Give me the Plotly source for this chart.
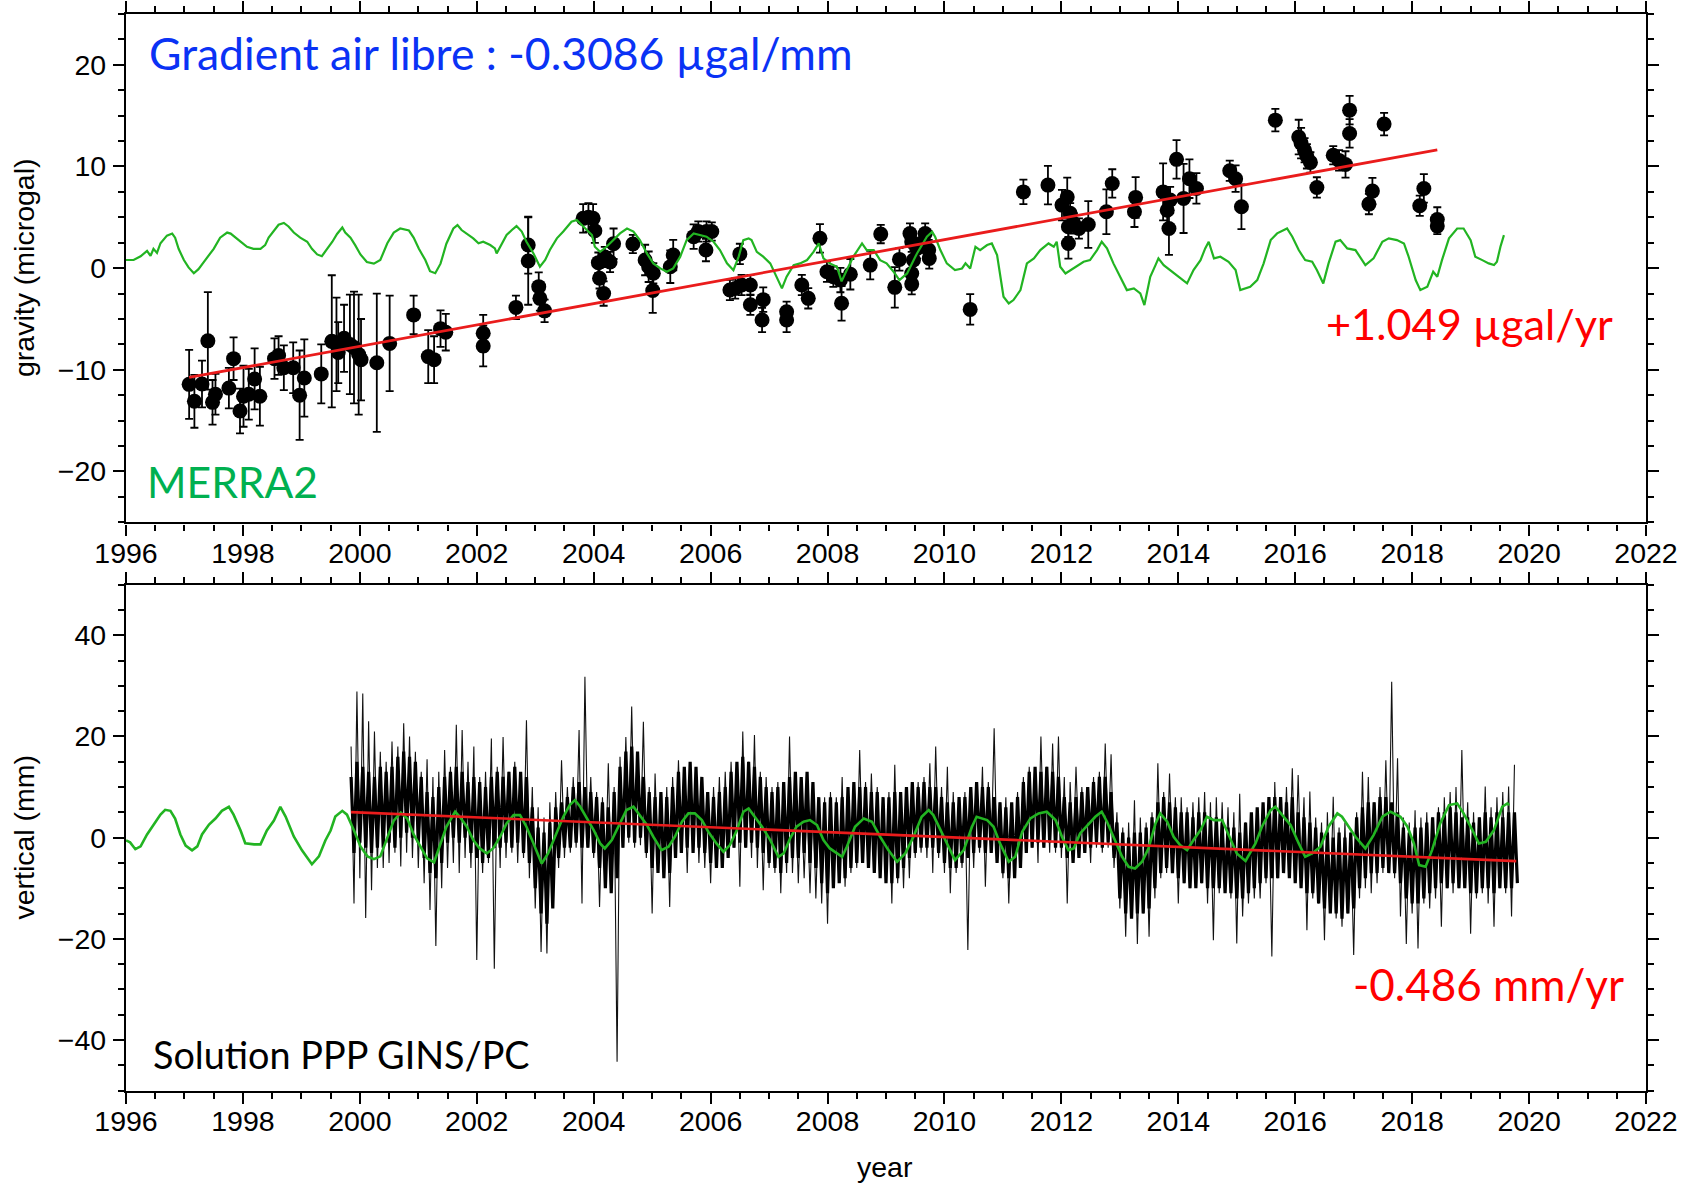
import numpy as np
import plotly.graph_objects as go

# ---------------------------------------------------------------------------
# Absolute gravity measurements (microgal) with their uncertainties
# ---------------------------------------------------------------------------
grav_t = [
    1997.08, 1997.17, 1997.30, 1997.40, 1997.48, 1997.53, 1997.76, 1997.84, 1997.95, 1998.01,
    1998.10, 1998.20, 1998.29, 1998.54, 1998.61, 1998.70, 1998.86, 1998.97, 1999.05, 1999.34,
    1999.52, 1999.60, 1999.63, 1999.73, 1999.83, 1999.90, 1999.98, 2000.02, 2000.29, 2000.51,
    2000.92, 2001.17, 2001.27, 2001.38, 2001.47, 2002.11, 2002.11, 2002.67, 2002.88, 2002.88,
    2003.06, 2003.08, 2003.16, 2003.82, 2003.91, 2003.99, 2004.02, 2004.08, 2004.10, 2004.17,
    2004.19, 2004.28, 2004.34, 2004.67, 2004.88, 2004.94, 2005.02, 2005.01, 2005.31, 2005.36,
    2005.71, 2005.79, 2005.93, 2006.02, 2005.92, 2006.33, 2006.42, 2006.50, 2006.53, 2006.68,
    2006.68, 2006.88, 2006.90, 2007.30, 2007.30, 2007.56, 2007.67, 2007.87, 2007.99, 2008.10,
    2008.22, 2008.24, 2008.39, 2008.73, 2008.91, 2009.15, 2009.23, 2009.41, 2009.44, 2009.47,
    2009.44, 2009.44, 2009.53, 2009.64, 2009.67, 2009.73, 2009.74, 2010.44, 2011.35, 2011.77,
    2012.01, 2012.10, 2012.12, 2012.12, 2012.15, 2012.21, 2012.30, 2012.46, 2012.77, 2012.87,
    2013.25, 2013.27, 2013.74, 2013.81, 2013.84, 2013.86, 2013.97, 2014.09, 2014.19, 2014.31,
    2014.88, 2014.98, 2015.08, 2015.66, 2016.06, 2016.10, 2016.16, 2016.20, 2016.26, 2016.37,
    2016.65, 2016.75, 2016.86, 2016.93, 2016.93, 2017.26, 2017.32, 2017.52, 2018.13, 2018.20,
    2018.43, 2018.43,
]
grav_v = [
    -11.43, -13.1, -11.4, -7.15, -13.2, -12.4, -11.8, -8.9, -14.05, -12.6,
    -12.4, -10.9, -12.6, -8.9, -8.6, -9.8, -9.8, -12.5, -10.8, -10.4,
    -7.2, -7.5, -8.3, -6.9, -7.5, -7.8, -8.5, -9.0, -9.3, -7.4,
    -4.6, -8.7, -9.0, -5.95, -6.3, -6.4, -7.66, -3.86, 2.27, 0.70,
    -1.82, -2.97, -4.2, 4.9, 5.0, 4.9, 3.68, 0.54, -1.0, -2.5,
    1.1, 0.6, 2.4, 2.37, 0.8, 0.14, -0.5, -2.2, 0.14, 1.29,
    3.1, 3.6, 3.6, 3.6, 1.78, -2.15, -2.0, 1.4, -1.66, -1.66,
    -3.6, -5.1, -3.1, -4.3, -5.1, -1.66, -2.97, 2.93, -0.35, -0.84,
    -1.17, -3.46, -0.6, 0.3, 3.35, -1.89, 0.86, 3.4, 2.6, 0.8,
    -0.52, -1.57, 1.94, 2.6, 3.4, 1.78, 0.96, -4.06, 7.5, 8.17,
    6.2, 7.0, 4.07, 2.43, 5.4, 4.4, 3.9, 4.3, 5.55, 8.33,
    5.55, 6.96, 7.5, 5.7, 3.9, 6.7, 10.7, 6.86, 8.8, 7.84,
    9.58, 8.8, 6.04, 14.56, 12.9, 12.3, 11.6, 11.0, 10.4, 7.94,
    11.1, 10.6, 10.2, 15.54, 13.25, 6.3, 7.58, 14.17, 6.14, 7.84,
    4.79, 4.14,
]
grav_err = [
    3.4, 2.6, 2.3, 4.8, 2.2, 2.0, 2.0, 2.1, 2.2, 3.0,
    2.5, 3.0, 2.9, 2.0, 1.9, 2.2, 2.5, 4.4, 3.8, 2.9,
    6.5, 4.6, 3.0, 3.3, 4.9, 5.5, 5.9, 4.0, 6.8, 4.7,
    1.9, 2.6, 2.3, 1.8, 1.8, 1.8, 2.0, 1.15, 2.8, 4.3,
    1.4, 1.2, 1.1, 1.4, 1.4, 1.4, 1.2, 1.0, 1.0, 1.2,
    1.0, 1.0, 1.5, 0.9, 1.5, 1.5, 1.0, 2.2, 1.6, 1.5,
    1.2, 1.0, 1.0, 0.9, 1.1, 1.0, 1.0, 1.0, 1.0, 1.0,
    1.0, 1.2, 1.2, 1.0, 1.2, 1.0, 1.0, 1.4, 1.0, 1.0,
    1.2, 1.7, 1.5, 1.4, 0.9, 2.0, 1.1, 1.0, 1.0, 1.0,
    1.0, 1.0, 1.0, 1.0, 1.0, 1.0, 1.0, 1.5, 1.2, 1.9,
    1.5, 1.9, 1.0, 1.5, 1.0, 1.0, 1.0, 2.3, 2.2, 1.4,
    1.5, 2.0, 2.8, 1.5, 2.6, 1.3, 1.9, 3.4, 1.9, 1.5,
    1.0, 1.3, 2.2, 1.1, 1.7, 1.5, 1.2, 1.2, 1.0, 1.0,
    0.9, 1.0, 1.3, 1.4, 1.4, 1.0, 1.3, 1.1, 1.0, 1.4,
    1.2, 0.8,
]

# MERRA2 atmospheric loading expressed in gravity (microgal)
merra_grav_t = [
    1996.00, 1996.13, 1996.25, 1996.36, 1996.42, 1996.47, 1996.53, 1996.59, 1996.70, 1996.79,
    1996.84, 1996.90, 1996.99, 1997.07, 1997.16, 1997.24, 1997.33, 1997.41, 1997.50, 1997.61,
    1997.73, 1997.79, 1997.87, 1997.96, 1998.07, 1998.18, 1998.30, 1998.38, 1998.44, 1998.53,
    1998.61, 1998.70, 1998.78, 1998.87, 1998.98, 1999.10, 1999.18, 1999.27, 1999.35, 1999.44,
    1999.53, 1999.61, 1999.70, 1999.75, 1999.84, 1999.92, 2000.01, 2000.12, 2000.24, 2000.35,
    2000.47, 2000.58, 2000.69, 2000.84, 2000.92, 2001.01, 2001.12, 2001.20, 2001.29, 2001.38,
    2001.48, 2001.60, 2001.67, 2001.74, 2001.83, 2001.94, 2002.03, 2002.11, 2002.23, 2002.31,
    2002.34, 2002.40, 2002.51, 2002.60, 2002.68, 2002.77, 2002.85, 2002.97, 2003.08, 2003.17,
    2003.25, 2003.37, 2003.48, 2003.62, 2003.71, 2003.77, 2003.88, 2003.97, 2004.02, 2004.11,
    2004.22, 2004.34, 2004.45, 2004.57, 2004.68, 2004.79, 2004.91, 2005.02, 2005.14, 2005.25,
    2005.36, 2005.48, 2005.59, 2005.71, 2005.82, 2005.93, 2006.05, 2006.16, 2006.28, 2006.39,
    2006.48, 2006.56, 2006.65, 2006.70, 2006.79, 2006.90, 2007.02, 2007.13, 2007.22, 2007.30,
    2007.42, 2007.53, 2007.65, 2007.76, 2007.85, 2007.93, 2008.04, 2008.16, 2008.24, 2008.33,
    2008.44, 2008.59, 2008.67, 2008.79, 2008.90, 2009.01, 2009.13, 2009.23, 2009.36, 2009.53,
    2009.70, 2009.79, 2009.84, 2009.93, 2010.04, 2010.18, 2010.30, 2010.36, 2010.44, 2010.53,
    2010.61, 2010.73, 2010.81, 2010.90, 2010.95, 2011.01, 2011.10, 2011.18, 2011.30, 2011.41,
    2011.53, 2011.64, 2011.78, 2011.87, 2011.92, 2011.98, 2012.07, 2012.21, 2012.38, 2012.49,
    2012.61, 2012.69, 2012.78, 2012.89, 2013.01, 2013.12, 2013.24, 2013.35, 2013.42, 2013.52,
    2013.61, 2013.66, 2013.75, 2013.86, 2013.98, 2014.15, 2014.26, 2014.38, 2014.46, 2014.52,
    2014.61, 2014.72, 2014.86, 2014.98, 2015.06, 2015.23, 2015.35, 2015.46, 2015.58, 2015.69,
    2015.86, 2015.95, 2016.06, 2016.17, 2016.29, 2016.37, 2016.48, 2016.57, 2016.69, 2016.77,
    2016.89, 2017.03, 2017.20, 2017.34, 2017.49, 2017.60, 2017.74, 2017.86, 2017.94, 2018.06,
    2018.14, 2018.26, 2018.36, 2018.43, 2018.51, 2018.63, 2018.77, 2018.88, 2019.00, 2019.08,
    2019.20, 2019.31, 2019.40, 2019.45, 2019.51, 2019.57,
]
merra_grav_v = [
    0.8, 0.8, 1.17, 1.7, 1.2, 1.9, 1.5, 2.45, 3.2, 3.4,
    3.0, 1.9, 0.8, 0.07, -0.5, -0.1, 0.6, 1.17, 1.9, 3.0,
    3.5, 3.4, 3.0, 2.6, 2.1, 1.9, 1.9, 2.26, 3.0, 3.7,
    4.27, 4.45, 4.1, 3.5, 3.0, 2.6, 1.9, 1.35, 1.17, 1.9,
    2.6, 3.36, 4.0, 3.5, 3.0, 2.26, 1.35, 0.6, 0.44, 0.8,
    2.45, 3.5, 3.9, 3.7, 3.0, 1.9, 0.8, -0.3, -0.5, 0.44,
    2.4, 3.9, 4.24, 3.75, 3.42, 2.93, 2.44, 2.6, 2.27, 1.94,
    1.45, 2.1, 3.26, 3.75, 4.14, 3.6, 2.6, 1.45, 0.14, 0.8,
    1.78, 2.93, 3.6, 4.57, 4.73, 4.4, 3.75, 3.26, 2.1, 1.6,
    2.1, 2.76, 3.42, 3.9, 3.6, 2.76, 1.45, 0.47, -0.02, -0.35,
    -0.02, 1.13, 2.76, 3.42, 3.26, 3.1, 2.6, 1.78, 0.47, -0.2,
    1.13, 2.76, 2.93, 2.76, 1.6, 1.13, 0.47, -0.84, -1.99, -0.84,
    0.3, 0.47, 0.8, 1.6, 2.44, 0.96, 0.47, 0.14, -1.3, -0.19,
    1.12, 2.43, 1.78, 1.78, 0.79, 0.47, -0.35, -1.17, -0.52, 1.45,
    3.09, 3.58, 3.09, 1.78, 0.47, -0.19, -0.03, 0.47, -0.03, 2.1,
    1.78, 2.27, 2.43, 1.29, -0.52, -2.81, -3.47, -3.14, -2.16, 0.47,
    0.96, 1.78, 2.43, 2.1, 2.6, 0.14, -0.52, -0.03, 0.63, 0.79,
    1.78, 2.6, 1.94, 0.47, -0.85, -2.16, -1.99, -2.48, -3.63, -0.85,
    0.3, 0.96, 0.3, -0.19, -0.68, -1.5, -0.19, 0.79, 1.94, 2.6,
    0.96, 1.12, 0.63, -0.19, -2.16, -1.83, -1.17, 0.47, 2.76, 3.42,
    3.9, 3.09, 1.78, 0.79, 0.63, -0.19, -1.5, 0.47, 2.6, 2.76,
    1.94, 1.78, 0.3, 0.96, 2.6, 2.93, 2.76, 2.43, 1.12, -1.17,
    -2.16, -1.83, -0.35, -0.85, 0.79, 2.93, 3.9, 3.9, 2.76, 1.12,
    0.79, 0.47, 0.3, 0.63, 2.1, 3.25,
]

# Linear gravity trend (microgal per year)
grav_rate = 1.049
grav_fit_t = [1997.08, 2018.43]
grav_fit_start = -10.75

# ---------------------------------------------------------------------------
# GNSS vertical position (mm), PPP solution
# gnss_v: excursions of the daily scatter every 0.05 yr (upper / lower alternately)
# gnss_core_top / gnss_core_bot: bulk of the daily values every 0.1 yr
# ---------------------------------------------------------------------------
gnss_start = 1999.85
gnss_step = 0.05
gnss_v = [
    18, -13, 28.9, -8, 28.5, -15.9, 23, -10.4, 21, -6,
    17, -6, 15, -5, 19, -3, 18, -5.7, 22.6, -3,
    20, -4, 17, -6, 13, -9, 15.5, -14.3, 12, -21.4,
    13, -10, 17.3, -6, 14, -5, 22.3, -7, 21.3, -4,
    15, -6, 18, -24.2, 12, -7, 13, -5, 19.6, -25.9,
    14, -6, 19.9, -4, 13, -3, 15, -5, 12, -4,
    23.2, -8, 10, -14, 6, -22.6, 4, -22.9, 7, -12,
    9, -6, 15.3, -4, 10, -3, 12, -2, 21.3, -13,
    31.8, -2, 12, -4, 9, -13.7, 8, -8, 14.7, -9,
    10, -44.3, 16, -2, 19.9, -1, 25.9, -2, 15, -1.5,
    22.9, -4, 10, -15, 12.7, -6, 9, -7, 10, -13.7,
    12, -4, 15.3, -3, 13, -7, 14, -3, 12, -5,
    11, -6, 9, -9, 10, -5, 12, -6, 13, -3,
    15, -2, 14, -9.7, 21, -2, 15, -4, 20.3, -6,
    13, -10.4, 12, -6, 10, -7, 11, -11, 9, -7,
    20, -7, 10, -9, 9, -8, 8, -11, 8, -12,
    7, -13, 8, -17, 9, -9, 8, -8, 12, -9.7,
    9, -7, 8, -6, 17.3, -5, 11, -6, 12.7, -5,
    10, -7, 8, -8, 9, -13, 14.4, -9, 8, -10,
    9, -8, 10, -4, 11, -3, 12, -4, 14.7, -7,
    18, -4, 10, -7, 14, -11, 9, -7, 8, -6,
    9, -22.2, 10, -6, 11, -3, 14, -9.7, 11, -3,
    21.6, -5, 7, -8, 8, -13, 6, -7, 9, -6,
    12, -3, 14, -2, 13, -5, 20, -2, 14, -3,
    18.6, -3, 20, -4, 12, -13, 11, -4, 14, -2,
    10, -2, 9, -5, 12, -2, 13, -3, 18.6, -2,
    16.5, -6, 5, -14, 2, -19.6, 3, -15, 7.4, -21,
    4, -15, 3, -19.6, 5, -12, 14.7, -8, 9, -7,
    12.7, -6, 8, -13, 8, -9, 6, -10, 7, -8,
    8, -9, 9, -13, 7, -20.3, 8, -11, 7, -10,
    6, -12, 5, -20.9, 8.7, -15.6, 3, -13, 4, -12,
    2, -12, 5, -9, 6, -23.5, 11, -8, 8, -7,
    10, -7, 13.7, -8, 12.4, -7, 8, -18.3, 9.1, -12,
    4, -13, 3, -20.3, 5, -14, 8.1, -16, 2, -17.6,
    3, -15, 1, -23.2, 5, -12, 13, -10, 12, -11,
    7, -9, 10, -7, 15.3, -6, 30.8, -8, 15.7, -15.6,
    4, -21, 3, -15, 5.4, -21.9, 4, -13, 5, -14,
    4, -12, 6, -17.6, 8, -10, 9, -11, 10, -10,
    17.3, -9, 7, -19, 5, -12, 4, -11, 10.1, -13,
    6, -17.6, 8, -10, 9, -11, 10.1, -15.6, 14.4,
]
gnss_core_step = 0.1
gnss_core_top = [
    12, 15, 14, 13, 12, 14, 13, 14, 16, 17,
    16, 15, 12, 9, 8, 10, 12, 13, 14, 13,
    11, 12, 11, 10, 12, 13, 12, 13, 14, 13,
    12, 6, 2, 1, 3, 6, 7, 8, 10, 11,
    10, 9, 8, 7, 6, 9, 14, 17, 18, 17,
    12, 9, 8, 9, 8, 10, 13, 14, 15, 14,
    12, 9, 8, 9, 10, 13, 15, 16, 15, 14,
    12, 10, 9, 10, 11, 12, 13, 12, 13, 11,
    8, 7, 8, 7, 8, 10, 11, 10, 10, 9,
    9, 8, 8, 9, 9, 10, 11, 10, 11, 10,
    10, 8, 7, 7, 8, 8, 10, 11, 10, 10,
    8, 7, 6, 7, 8, 11, 13, 14, 13, 14,
    13, 12, 8, 7, 8, 9, 10, 11, 12, 12,
    9, 3, 1, 0, 1, 1, 2, 4, 7, 8,
    7, 6, 5, 5, 4, 5, 5, 4, 4, 3,
    2, 2, 1, 3, 5, 6, 7, 8, 8, 8,
    7, 8, 5, 4, 3, 2, 1, 1, 0, 1,
    0, 1, 4, 6, 7, 7, 8, 8, 7, 5,
    2, 1, 2, 2, 3, 4, 5, 5, 6, 5,
    4, 4, 3, 4, 5, 4, 5, 4, 5, 5,
]
gnss_core_bot = [
    -3, -1, -2, -3, -2, -2, -1, -2, 0, 1,
    0, -1, -4, -7, -8, -5, -1, 0, -1, 0,
    -3, -4, -5, -4, -2, -2, -1, -2, -1, -3,
    -5, -10, -15, -17, -14, -4, -2, -2, -1, -2,
    -2, -3, -6, -10, -11, -8, -2, 0, -1, 0,
    -3, -6, -7, -8, -7, -4, -3, -2, -3, -2,
    -3, -5, -6, -6, -4, -2, -1, -2, -1, -2,
    -3, -5, -6, -7, -5, -4, -4, -3, -5, -6,
    -9, -11, -10, -9, -8, -6, -5, -5, -6, -7,
    -8, -9, -9, -8, -6, -4, -3, -2, -2, -2,
    -3, -5, -6, -6, -5, -4, -3, -2, -3, -3,
    -5, -7, -8, -8, -6, -3, -2, -1, -2, -1,
    -2, -2, -4, -5, -4, -3, -2, -1, -2, -1,
    -4, -12, -15, -16, -15, -15, -14, -10, -7, -6,
    -7, -8, -9, -10, -10, -9, -10, -10, -10, -11,
    -11, -12, -12, -11, -10, -9, -8, -8, -8, -7,
    -8, -9, -10, -11, -11, -13, -14, -15, -15, -16,
    -15, -14, -10, -8, -7, -7, -6, -7, -7, -9,
    -12, -13, -13, -12, -11, -10, -9, -10, -9, -10,
    -10, -11, -11, -10, -10, -11, -10, -10, -10, -9,
]

# MERRA2 loading model, vertical displacement (mm)
merra_vert_t = [
    1996.00, 1996.07, 1996.16, 1996.25, 1996.36, 1996.47, 1996.59, 1996.67, 1996.76, 1996.84,
    1996.93, 1997.02, 1997.13, 1997.22, 1997.30, 1997.42, 1997.53, 1997.64, 1997.76, 1997.84,
    1997.96, 1998.04, 1998.19, 1998.30, 1998.41, 1998.53, 1998.64, 1998.73, 1998.87, 1999.01,
    1999.18, 1999.30, 1999.41, 1999.50, 1999.58, 1999.70, 1999.78, 1999.90, 2000.01, 2000.13,
    2000.24, 2000.35, 2000.47, 2000.58, 2000.70, 2000.81, 2000.92, 2001.04, 2001.15, 2001.27,
    2001.38, 2001.48, 2001.63, 2001.71, 2001.83, 2001.94, 2002.05, 2002.17, 2002.28, 2002.40,
    2002.51, 2002.63, 2002.74, 2002.85, 2002.97, 2003.11, 2003.22, 2003.34, 2003.48, 2003.59,
    2003.68, 2003.77, 2003.88, 2004.00, 2004.11, 2004.19, 2004.31, 2004.42, 2004.56, 2004.68,
    2004.79, 2004.91, 2005.02, 2005.16, 2005.28, 2005.39, 2005.51, 2005.62, 2005.73, 2005.85,
    2005.96, 2006.10, 2006.22, 2006.33, 2006.45, 2006.56, 2006.65, 2006.76, 2006.88, 2007.02,
    2007.16, 2007.25, 2007.36, 2007.47, 2007.59, 2007.70, 2007.82, 2007.93, 2008.04, 2008.25,
    2008.33, 2008.47, 2008.62, 2008.76, 2008.90, 2009.04, 2009.19, 2009.33, 2009.47, 2009.61,
    2009.73, 2009.81, 2009.93, 2010.04, 2010.18, 2010.33, 2010.47, 2010.55, 2010.73, 2010.84,
    2010.95, 2011.10, 2011.21, 2011.33, 2011.47, 2011.61, 2011.75, 2011.90, 2012.01, 2012.12,
    2012.21, 2012.32, 2012.47, 2012.58, 2012.69, 2012.78, 2012.89, 2013.04, 2013.15, 2013.26,
    2013.38, 2013.49, 2013.61, 2013.69, 2013.81, 2013.92, 2014.03, 2014.15, 2014.26, 2014.38,
    2014.49, 2014.61, 2014.75, 2014.86, 2015.00, 2015.15, 2015.32, 2015.43, 2015.58, 2015.66,
    2015.80, 2015.92, 2016.06, 2016.17, 2016.29, 2016.43, 2016.57, 2016.72, 2016.80, 2016.89,
    2017.03, 2017.20, 2017.34, 2017.49, 2017.63, 2017.80, 2017.92, 2018.03, 2018.12, 2018.23,
    2018.34, 2018.48, 2018.63, 2018.77, 2018.88, 2019.03, 2019.14, 2019.26, 2019.40, 2019.54,
    2019.63, 2019.66,
]
merra_vert_v = [
    -0.55, -0.94, -2.28, -1.73, 0.63, 2.6, 4.55, 5.5, 5.3, 3.77,
    0.63, -1.57, -2.5, -1.73, 0.63, 2.6, 3.77, 5.3, 6.1, 4.55,
    1.41, -1.1, -1.33, -1.33, 1.41, 3.37, 6.1, 4.16, 0.24, -2.5,
    -5.26, -3.7, -0.55, 1.41, 4.16, 5.3, 4.55, 1.41, -1.73, -3.7,
    -4.24, -3.7, -0.16, 3.37, 4.94, 3.77, 0.63, -1.73, -4.08, -4.87,
    -1.2, 2.16, 5.12, 4.13, 2.16, -0.48, -2.13, -3.12, -2.13, 0.18,
    2.82, 4.46, 4.46, 2.16, -1.14, -5.1, -3.12, 0.18, 4.13, 6.44,
    7.43, 6.11, 3.8, 1.5, -1.14, -2.13, -0.48, 2.16, 5.45, 6.11,
    4.46, 2.49, 0.18, -2.46, -1.8, 0.18, 3.15, 4.79, 4.79, 3.47,
    1.17, -1.14, -2.79, -1.47, 1.5, 5.12, 5.78, 4.13, 2.16, -0.48,
    -3.78, -3.12, -0.15, 2.16, 3.15, 3.47, 2.49, -0.48, -2.13, -3.78,
    -1.8, 2.16, 3.8, 3.15, 0.18, -2.46, -4.77, -3.12, 0.18, 4.13,
    5.45, 4.46, 1.5, -1.14, -4.44, -2.46, 2.16, 4.13, 3.47, 2.16,
    -1.14, -4.77, -3.78, 1.17, 3.8, 4.79, 5.12, 3.47, 0.18, -2.46,
    -2.13, 0.84, 2.82, 4.13, 5.12, 3.15, 0.18, -3.78, -5.76, -6.09,
    -4.77, -2.13, 2.82, 4.79, 3.15, 0.18, -1.47, -2.46, -0.48, 1.5,
    4.13, 3.47, 3.47, 0.51, -3.12, -4.6, -1.14, 2.16, 5.45, 6.11,
    4.13, 2.49, -1.14, -3.78, -3.12, -1.8, 2.16, 4.79, 4.13, 2.49,
    0.18, -2.13, 0.51, 4.13, 5.12, 4.13, 2.16, -1.14, -5.43, -5.76,
    -2.46, 2.82, 6.44, 6.77, 4.79, 1.5, -1.14, -0.81, 1.5, 6.11,
    6.77, 6.44,
]

# Linear vertical trend (mm per year)
vert_rate = -0.486
vert_fit_t = [1999.85, 2019.78]
vert_fit_start = 5.05

year_ticks = list(range(1996, 2023, 2))

# ---------------------------------------------------------------------------
# Page geometry (pixels)
# ---------------------------------------------------------------------------
W, H = 1692, 1183
ML, MR = 126, 46
PW = W - ML - MR


def px(x):
    return (x - ML) / PW


def py(y):
    return 1 - y / H


TICK_FONT = dict(family="Liberation Sans, Arial, sans-serif", size=28.5, color="black")
NOTE_FONT = "Lato, Calibri, Carlito, sans-serif"
GREEN_LINE = "#22b422"
RED_LINE = "#ea1c1c"

gnss_t = gnss_start + gnss_step * np.arange(len(gnss_v))
core_t = gnss_start + gnss_core_step * np.arange(len(gnss_core_top))
# bulk of the daily scatter drawn as alternating upper / lower strokes
core_stroke_t = np.column_stack([core_t, core_t + gnss_core_step / 2]).ravel()
core_stroke_v = np.column_stack([gnss_core_top, gnss_core_bot]).ravel()

grav_fit_v = [grav_fit_start + grav_rate * (t - grav_fit_t[0]) for t in grav_fit_t]
vert_fit_v = [vert_fit_start + vert_rate * (t - vert_fit_t[0]) for t in vert_fit_t]

fig = go.Figure()

# top panel: gravity
fig.add_trace(go.Scatter(
    x=grav_t, y=grav_v, mode="markers", xaxis="x", yaxis="y",
    marker=dict(color="black", size=15, line=dict(width=0)),
    error_y=dict(type="data", array=grav_err, color="black", thickness=1.8, width=4),
    showlegend=False, hoverinfo="skip",
))
fig.add_trace(go.Scatter(
    x=merra_grav_t, y=merra_grav_v, mode="lines", xaxis="x", yaxis="y",
    line=dict(color=GREEN_LINE, width=2.2), showlegend=False, hoverinfo="skip",
))
fig.add_trace(go.Scatter(
    x=grav_fit_t, y=grav_fit_v, mode="lines", xaxis="x", yaxis="y",
    line=dict(color=RED_LINE, width=2.8), showlegend=False, hoverinfo="skip",
))

# bottom panel: GNSS vertical (scatter excursions + dense bulk)
fig.add_trace(go.Scatter(
    x=gnss_t, y=gnss_v, mode="lines", xaxis="x2", yaxis="y2",
    line=dict(color="#111111", width=1.1), showlegend=False, hoverinfo="skip",
))
fig.add_trace(go.Scatter(
    x=core_stroke_t, y=core_stroke_v, mode="lines", xaxis="x2", yaxis="y2",
    line=dict(color="black", width=3.2), showlegend=False, hoverinfo="skip",
))
fig.add_trace(go.Scatter(
    x=merra_vert_t, y=merra_vert_v, mode="lines", xaxis="x2", yaxis="y2",
    line=dict(color=GREEN_LINE, width=2.6), showlegend=False, hoverinfo="skip",
))
fig.add_trace(go.Scatter(
    x=vert_fit_t, y=vert_fit_v, mode="lines", xaxis="x2", yaxis="y2",
    line=dict(color=RED_LINE, width=2.6), showlegend=False, hoverinfo="skip",
))

axis_style = dict(
    showline=True, linecolor="black", linewidth=2.4, mirror="allticks",
    ticks="outside", ticklen=11, tickwidth=2, tickcolor="black",
    showgrid=False, zeroline=False, tickfont=TICK_FONT,
)
x_style = dict(axis_style, range=[1996, 2022], tickvals=year_ticks, ticklabelstandoff=-7,
               minor=dict(dtick=0.5, tick0=1996, ticks="outside", ticklen=6,
                          tickwidth=1.6, tickcolor="black"))

fig.update_layout(
    width=W, height=H,
    margin=dict(l=ML, r=MR, t=0, b=0),
    paper_bgcolor="white", plot_bgcolor="white",
    xaxis=dict(x_style, domain=[0, 1], anchor="y"),
    yaxis=dict(axis_style, domain=[py(522.3), py(14.0)], anchor="x",
               range=[-25, 25], tick0=0, dtick=10, ticklabelstandoff=1,
               minor=dict(dtick=2.5, tick0=0, ticks="outside", ticklen=6,
                          tickwidth=1.6, tickcolor="black")),
    xaxis2=dict(x_style, domain=[0, 1], anchor="y2"),
    yaxis2=dict(axis_style, domain=[py(1090.6), py(584.7)], anchor="x2",
                range=[-50, 50], tick0=0, dtick=20, ticklabelstandoff=1,
                minor=dict(dtick=5, tick0=0, ticks="outside", ticklen=6,
                           tickwidth=1.6, tickcolor="black")),
)

notes = [
    dict(text="Gradient air libre : -0.3086 \u00b5gal/mm", x=px(147), y=py(53),
         xanchor="left", color="#0a32f5", size=44.5),
    dict(text="MERRA2", x=px(145), y=py(481), xanchor="left", color="#00b050", size=42.6),
    dict(text=f"+{grav_rate:.3f} \u00b5gal/yr", x=px(1469), y=py(323),
         xanchor="center", color="#ff0000", size=43.3),
    dict(text=f"{vert_rate:.3f} mm/yr", x=px(1488), y=py(984),
         xanchor="center", color="#ff0000", size=44),
    dict(text="Solution PPP GINS/PC", x=px(151), y=py(1054), xanchor="left",
         color="black", size=37.8),
]
for n in notes:
    fig.add_annotation(text=n["text"], x=n["x"], y=n["y"], xref="paper", yref="paper",
                       xanchor=n["xanchor"], yanchor="middle", showarrow=False,
                       font=dict(family=NOTE_FONT, size=n["size"], color=n["color"]))

axis_titles = [
    dict(text="gravity (microgal)", x=px(24), y=py(268), angle=-90),
    dict(text="vertical (mm)", x=px(24), y=py(837.6), angle=-90),
    dict(text="year", x=px(885), y=py(1167), angle=0),
]
for a in axis_titles:
    fig.add_annotation(text=a["text"], x=a["x"], y=a["y"], xref="paper", yref="paper",
                       xanchor="center", yanchor="middle", showarrow=False,
                       textangle=a["angle"], font=TICK_FONT)

fig.write_html("out.html", config={"displayModeBar": False})
